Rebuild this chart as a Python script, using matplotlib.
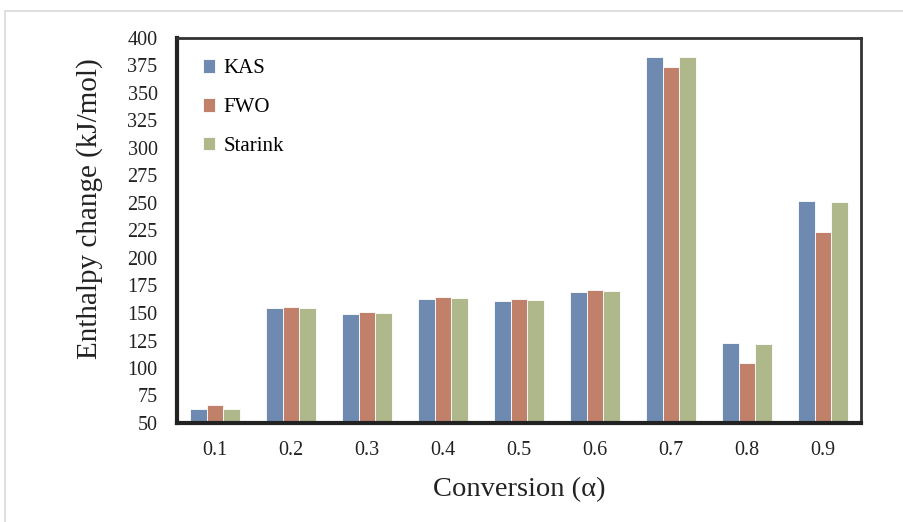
import numpy as np
import matplotlib.pyplot as plt
from matplotlib.patches import Rectangle

plt.rcParams['font.family'] = ['Liberation Serif', 'DejaVu Serif']

conversion = ['0.1', '0.2', '0.3', '0.4', '0.5', '0.6', '0.7', '0.8', '0.9']
kas = [62.7, 154.2, 149.4, 162.7, 161.2, 169.4, 382.4, 122.4, 251.8]
fwo = [66.0, 155.5, 151.0, 164.3, 163.0, 171.0, 373.9, 104.5, 223.6]
starink = [63.0, 154.7, 150.0, 163.3, 161.8, 170.0, 383.0, 122.1, 251.2]

series = [('KAS', kas, '#6f8ab0'), ('FWO', fwo, '#c0806a'), ('Starink', starink, '#afb88a')]

fig = plt.figure(figsize=(9.04, 5.22), dpi=100)
# light outer frame like the source image
fig.patches.append(Rectangle((5 / 904, -0.1), 1.2, 1 - 11 / 522 + 0.1, transform=fig.transFigure,
                             fill=False, edgecolor='#d9d9d9', linewidth=1.2))
ax = fig.add_axes([177 / 904, 1 - 423 / 522, (861 - 177) / 904, (423 - 38) / 522])

x = np.arange(len(conversion))
w = 0.22
for i, (name, vals, col) in enumerate(series):
    ax.bar(x + (i - 1) * w, np.array(vals) - 50, width=w, bottom=50, color=col,
           edgecolor='white', linewidth=0.6, label=name)

ax.set_xlim(-0.5, len(conversion) - 0.5)
ax.set_ylim(50, 400)
ax.set_yticks(np.arange(50, 401, 25))
ax.set_xticks(x)
ax.set_xticklabels(conversion)
ax.tick_params(axis='both', length=0, labelsize=14.5, colors='#222222')
ax.tick_params(axis='x', pad=13)
ax.tick_params(axis='y', pad=14)

for s in ['left', 'bottom']:
    ax.spines[s].set_linewidth(3)
    ax.spines[s].set_color('#222222')
for s in ['top', 'right']:
    ax.spines[s].set_linewidth(2)
    ax.spines[s].set_color('#333333')

ax.set_ylabel('Enthalpy change (kJ/mol)', fontsize=21, color='#222222')
ax.yaxis.set_label_coords(-0.108, 0.556)
ax.set_xlabel('Conversion (α)', fontsize=20.5, color='#222222', labelpad=12)

ax.legend(loc='upper left', bbox_to_anchor=(0.01, 0.993), frameon=False, fontsize=15,
          handlelength=0.6, handleheight=0.6, handletextpad=0.4, labelspacing=0.95)

fig.savefig('out.png', dpi=100)
